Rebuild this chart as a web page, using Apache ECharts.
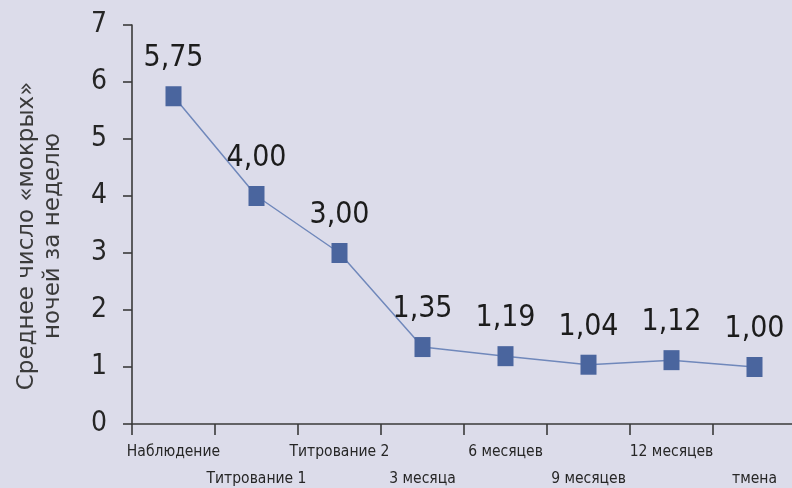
<!DOCTYPE html>
<html>
<head>
<meta charset="utf-8">
<script src="https://cdn.jsdelivr.net/npm/echarts@6/dist/echarts.min.js"></script>
<style>
  html, body { margin: 0; padding: 0; background: #dcdcea; }
  #chart { width: 792px; height: 488px; }
</style>
</head>
<body>
<div id="chart"></div>
<script>
// Mean number of "wet" nights per week across treatment stages
const categories = ['Наблюдение', 'Титрование 1', 'Титрование 2', '3 месяца', '6 месяцев', '9 месяцев', '12 месяцев', 'тмена'];
const wetNights = [5.75, 4.00, 3.00, 1.35, 1.19, 1.04, 1.12, 1.00];
const yTicks = [0, 1, 2, 3, 4, 5, 6, 7];
const yTitleLines = ['Среднее число «мокрых»', 'ночей за неделю'];

const narrow = '"Liberation Sans Narrow", "DejaVu Sans Condensed", sans-serif';
const axisColor = '#3a3a3a';

const chart = echarts.init(document.getElementById('chart'), null, { renderer: 'canvas' });

chart.setOption({
  backgroundColor: '#dcdcea',
  animation: false,
  grid: { left: 132, top: 25, width: 664, height: 399, containLabel: false, outerBoundsMode: 'none' },
  xAxis: {
    type: 'category',
    data: categories,
    boundaryGap: true,
    axisLine: { show: true, lineStyle: { color: axisColor, width: 1.6 } },
    axisTick: { show: true, length: 11, alignWithLabel: false, lineStyle: { color: axisColor, width: 1.6 } },
    axisLabel: {
      interval: 0,
      margin: 14,
      fontFamily: narrow,
      fontSize: 15.5,
      color: '#262626',
      lineHeight: 27,
      verticalAlign: 'top',
      hideOverlap: false,
      formatter: (v, i) => (i % 2 ? '\n' + v : v)
    },
    splitLine: { show: false }
  },
  yAxis: {
    type: 'value',
    min: yTicks[0],
    max: yTicks[yTicks.length - 1],
    interval: 1,
    axisLine: { show: true, lineStyle: { color: axisColor, width: 1.6 } },
    axisTick: { show: true, length: 9, lineStyle: { color: axisColor, width: 1.6 } },
    axisLabel: {
      margin: 25,
      fontFamily: narrow,
      fontSize: 28,
      color: '#262626'
    },
    splitLine: { show: false }
  },
  graphic: [{
    type: 'text',
    rotation: Math.PI / 2,
    x: 40,
    y: 236,
    style: {
      text: yTitleLines.join('\n'),
      fontFamily: '"DejaVu Sans", sans-serif',
      fontSize: 23,
      lineHeight: 26,
      fill: '#3a3a3a',
      align: 'center',
      verticalAlign: 'middle'
    }
  }],
  series: [{
    type: 'line',
    data: wetNights,
    symbol: 'rect',
    symbolSize: [16, 20],
    itemStyle: { color: '#4a659e' },
    lineStyle: { color: '#7088bb', width: 1.5 },
    label: {
      show: true,
      position: 'top',
      distance: 13,
      fontFamily: narrow,
      fontSize: 30,
      color: '#1c1c1c',
      formatter: p => p.value.toFixed(2).replace('.', ',')
    }
  }]
});
</script>
</body>
</html>
